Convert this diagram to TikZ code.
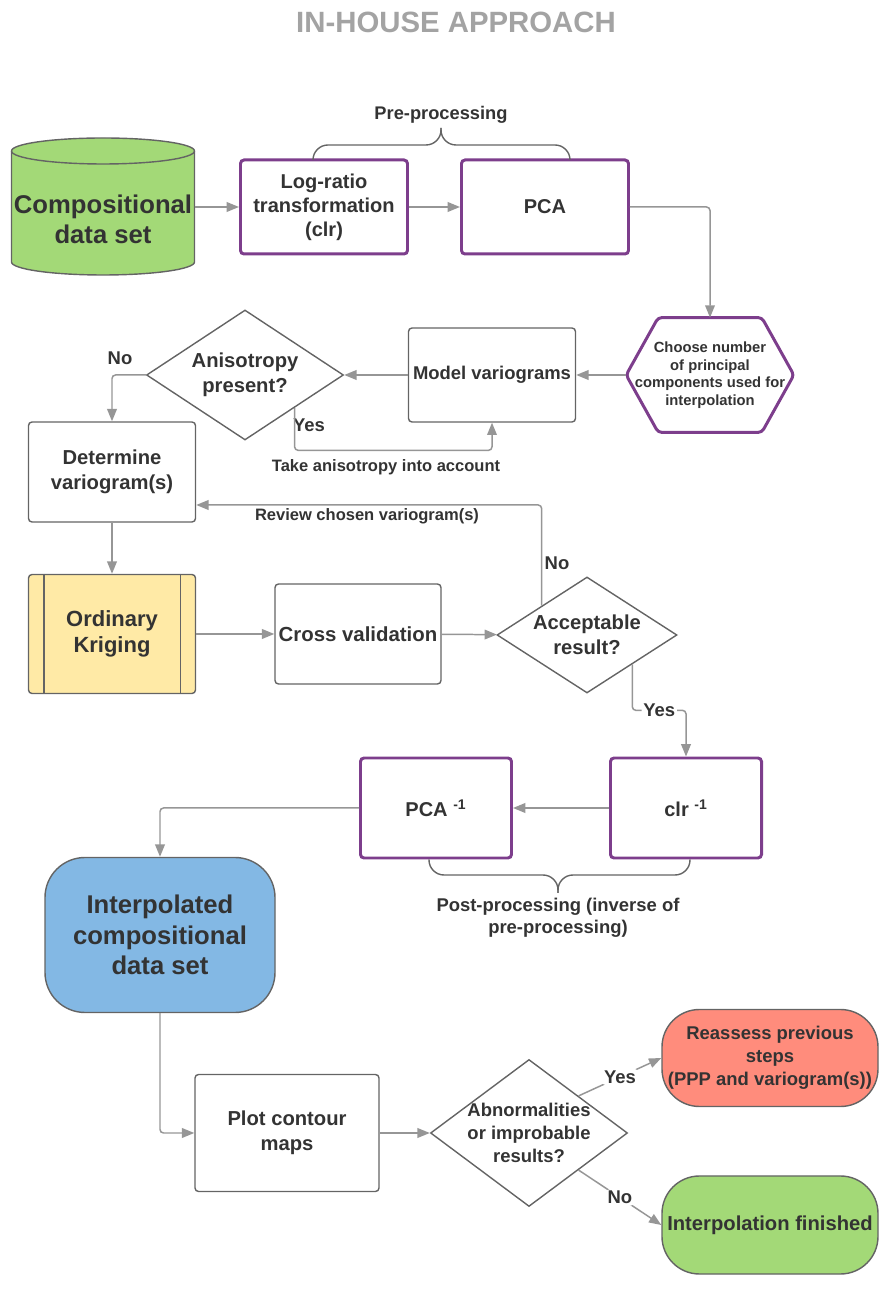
\documentclass[tikz,border=0pt]{standalone}
\usepackage{fontspec}
\setmainfont{Liberation Sans}
\usetikzlibrary{arrows.meta,backgrounds,shapes.geometric}
\definecolor{txt}{RGB}{51,51,51}
\definecolor{ttl}{RGB}{163,163,163}
\definecolor{bord}{RGB}{100,100,100}
\definecolor{conn}{RGB}{150,150,150}
\definecolor{purp}{RGB}{125,62,140}
\definecolor{grn}{RGB}{163,217,119}
\definecolor{blu}{RGB}{131,184,228}
\definecolor{ylw}{RGB}{255,234,166}
\definecolor{rd}{RGB}{255,140,124}

\begin{document}
\begin{tikzpicture}
      \useasboundingbox (0,0) rectangle (17.84,26.2);
      \tikzset{T/.style = {text=txt, align=center, font=\bfseries\fontsize{10.5}{12.5}\selectfont}}
      \tikzset{B/.style = {T, shape=rectangle, draw=bord, line width=0.8pt, rounded corners=2pt, inner sep=2pt, minimum width=3.34cm, minimum height=2cm}}
      \tikzset{P/.style = {B, draw=purp, line width=1.7pt, font=\bfseries\fontsize{11.4}{13.6}\selectfont}}
      \tikzset{D/.style = {T, shape=diamond, draw=bord, line width=0.8pt, inner sep=0pt, aspect=1.5, font=\bfseries\fontsize{11.5}{14}\selectfont}}
      \tikzset{R/.style = {B, rounded corners=0.75cm, inner xsep=0pt}}
      \tikzset{E/.style = {draw=conn, line width=0.85pt, rounded corners=2pt, -{Triangle[length=7pt,width=5.5pt]}}}
      \tikzset{L/.style = {text=txt, font=\bfseries\fontsize{10.5}{12}\selectfont, inner sep=1pt}}
      \tikzset{C/.style = {draw=bord, line width=0.8pt, rounded corners=0.3cm}}
      \node[T,text=ttl,font=\bfseries\fontsize{16.7}{20}\selectfont](title) at (9.12,25.76) {IN-HOUSE APPROACH};
      \node[T,font=\bfseries\fontsize{14.6}{17}\selectfont,inner sep=0pt,outer sep=0pt,minimum width=3.66cm,minimum height=2.22cm](data) at (2.06,21.81) {Compositional\\data set};
      \node[P,minimum height=1.88cm](logratio) at (6.48,22.06) {Log-ratio\\transformation\\(clr)};
      \node[P,minimum height=1.88cm](pca) at (10.9,22.06) {PCA};
      \node[T,font=\bfseries\fontsize{10.4}{12}\selectfont](prelabel) at (8.82,23.9) {Pre-processing};
      \node[T,font=\bfseries\fontsize{8.4}{10}\selectfont,inner sep=0pt,minimum width=3.34cm,minimum height=2.28cm](hex) at (14.2,18.7) {Choose number\\of principal\\components used for\\interpolation};
      \node[B,minimum height=1.88cm](model) at (9.84,18.7) {Model variograms};
      \node[D,minimum width=3.94cm,minimum height=2.6cm](aniso) at (4.9,18.7) {Anisotropy\\present?};
      \node[B,font=\bfseries\fontsize{11.5}{14}\selectfont](determine) at (2.24,16.76) {Determine\\variogram(s)};
      \node[B,fill=ylw,minimum height=2.38cm,font=\bfseries\fontsize{12.5}{15}\selectfont](kriging) at (2.24,13.52) {Ordinary\\Kriging};
      \node[B,minimum width=3.32cm,font=\bfseries\fontsize{11.6}{13}\selectfont](cross) at (7.16,13.52) {Cross validation};
      \node[D,minimum width=3.6cm,minimum height=2.32cm](accept) at (11.74,13.5) {Acceptable\\result?};
      \node[P,minimum width=3.02cm](clr) at (13.72,10.04) {clr \textsuperscript{-1}};
      \node[P,minimum width=3.02cm](pcainv) at (8.72,10.04) {PCA \textsuperscript{-1}};
      \node[T](postlabel) at (11.16,7.84) {Post-processing (inverse of\\pre-processing)};
      \node[B,fill=blu,rounded corners=0.8cm,minimum width=4.6cm,minimum height=3.1cm,font=\bfseries\fontsize{14.6}{17.5}\selectfont](interp) at (3.2,7.5) {Interpolated\\compositional\\data set};
      \node[B,minimum width=3.68cm,minimum height=2.34cm,font=\bfseries\fontsize{11.5}{14}\selectfont](plot) at (5.74,3.54) {Plot contour\\maps};
      \node[D,minimum width=3.94cm,minimum height=2.94cm,inner sep=-4pt,font=\bfseries\fontsize{10.5}{13.2}\selectfont](abn) at (10.58,3.54) {Abnormalities\\or improbable\\results?};
      \node[R,fill=rd,minimum width=4.32cm,minimum height=1.94cm,font=\bfseries\fontsize{10.5}{13}\selectfont](reassess) at (15.4,5.04) {Reassess previous\\steps\\(PPP and variogram(s))};
      \node[R,fill=grn,minimum width=4.32cm,minimum height=1.96cm,font=\bfseries\fontsize{11.5}{13}\selectfont](finished) at (15.4,1.7) {Interpolation finished};
      \node[L](noA) at (2.4,19.04) {No};
      \node[L](yesA) at (6.18,17.7) {Yes};
      \node[L,font=\bfseries\fontsize{9.4}{11}\selectfont](take) at (7.72,16.86) {Take anisotropy into account};
      \node[L,font=\bfseries\fontsize{9.4}{11}\selectfont](review) at (7.34,15.88) {Review chosen variogram(s)};
      \node[L](noB) at (11.14,14.94) {No};
      \coordinate (pretip) at (8.82,23.64);
      \coordinate (posttip) at (11.16,8.34);
      \begin{pgfonlayer}{background}
      \filldraw[fill=grn,draw=bord,line width=0.8pt] ([yshift=0.26cm]data.north west) -- ([yshift=0.26cm]data.south west) arc[start angle=180,end angle=360,x radius=1.83cm,y radius=0.26cm] -- ([yshift=0.26cm]data.north east) arc[start angle=0,end angle=180,x radius=1.83cm,y radius=0.26cm] -- cycle;
      \end{pgfonlayer}
      \draw[bord,line width=0.8pt] ([yshift=0.26cm]data.north east) arc[start angle=0,end angle=-180,x radius=1.83cm,y radius=0.26cm];
      \draw[purp,line width=1.7pt,rounded corners=2pt] (hex.west) -- ([xshift=0.64cm]hex.north west) -- ([xshift=-0.64cm]hex.north east) -- (hex.east) -- ([xshift=-0.64cm]hex.south east) -- ([xshift=0.64cm]hex.south west) -- cycle;
      \draw[bord,line width=0.8pt] ([xshift=0.32cm]kriging.north west) -- ([xshift=0.32cm]kriging.south west);
      \draw[bord,line width=0.8pt] ([xshift=-0.32cm]kriging.north east) -- ([xshift=-0.32cm]kriging.south east);
      \draw[C] ([xshift=-0.22cm]logratio.north) |- (8.82,23.3) -- (pretip);
      \draw[C] (pretip) -- (8.82,23.3) -| ([xshift=0.5cm]pca.north);
      \draw[C] ([xshift=-0.14cm]pcainv.south) |- (11.16,8.7) -- (posttip);
      \draw[C] (posttip) -- (11.16,8.7) -| ([xshift=0.08cm]clr.south);
      \draw[E] (logratio.west -| data.east) -- (logratio.west);
      \draw[E] (logratio) -- (pca);
      \draw[E] (pca.east) -| (hex.north);
      \draw[E] (hex.west) -- (model.east);
      \draw[E] (model.west) -- (aniso.east);
      \draw[E] (aniso.west) -| (determine.north);
      \draw[E] (aniso.south east) -- ++(0,-0.85) -| (model.south);
      \draw[E] (determine) -- (kriging);
      \draw[E] (kriging) -- (cross);
      \draw[E] (cross) -- (accept);
      \draw[E] (accept.north west) |- ([yshift=-0.66cm]determine.east);
      \draw[E] (accept.south east) -- ++(0,-0.92) -| node[L,pos=0.25,fill=white]{Yes} (clr.north);
      \draw[E] (clr) -- (pcainv);
      \draw[E] (pcainv.west) -| (interp.north);
      \draw[E] (interp.south) |- (plot.west);
      \draw[E] (plot) -- (abn);
      \draw[E] (abn.north east) -- node[L,fill=white]{Yes} (reassess.west);
      \draw[E] (abn.south east) -- node[L,fill=white]{No} (finished.west);
\end{tikzpicture}
\end{document}
